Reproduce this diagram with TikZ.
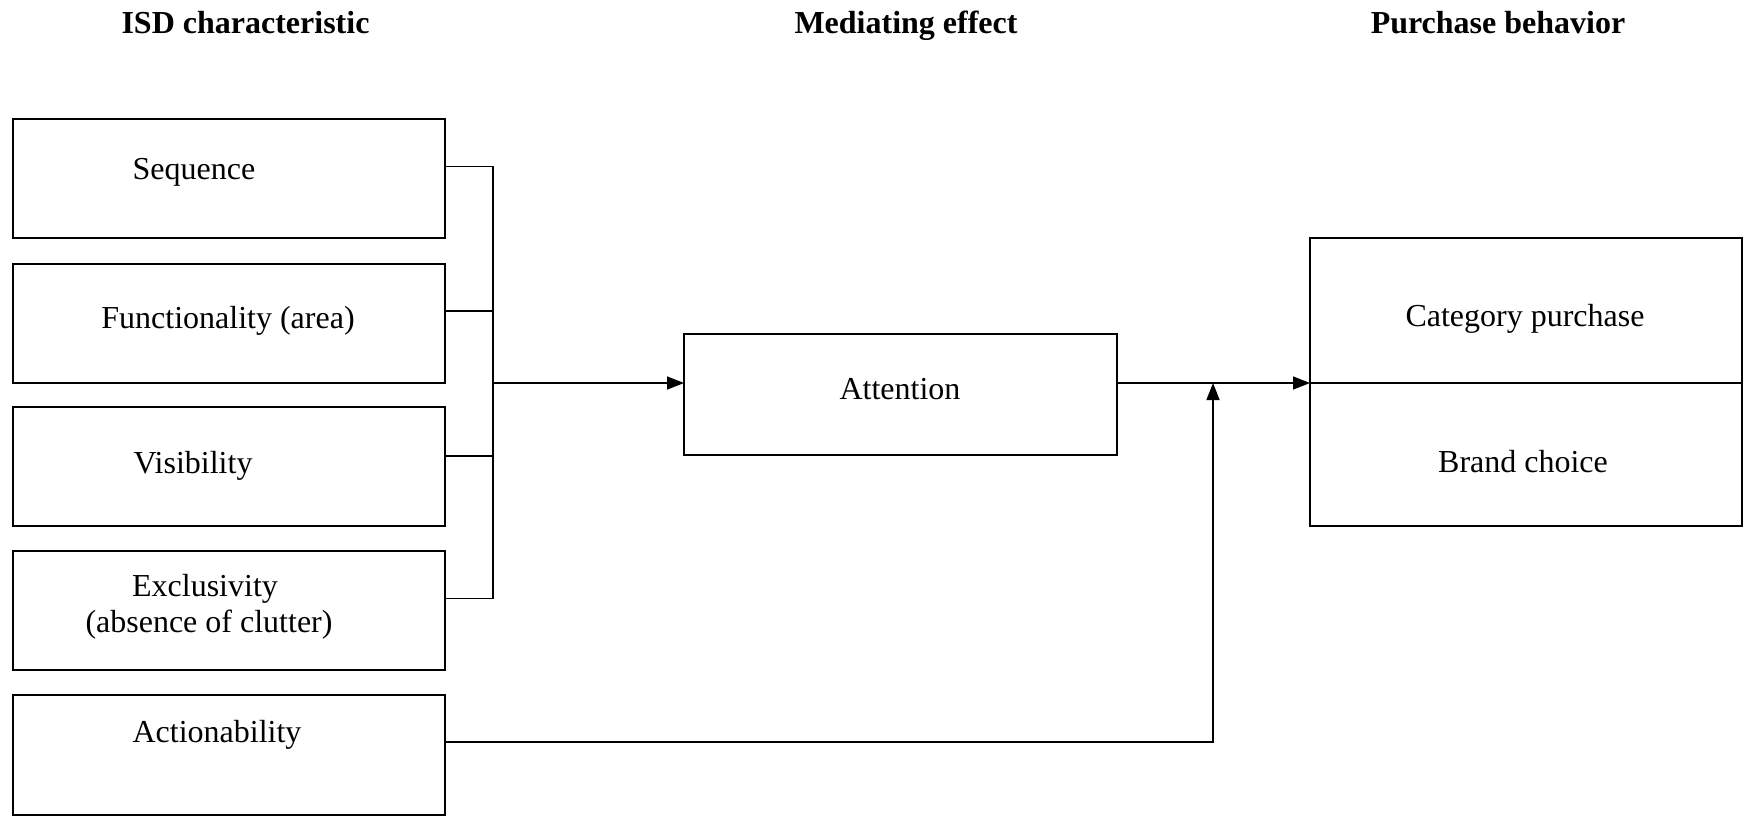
\documentclass[tikz,border=0pt]{standalone}
\usepackage{fontspec}
\setmainfont{Liberation Serif}
\usetikzlibrary{arrows.meta,calc}
\begin{document}
\begin{tikzpicture}[x=1pt,y=-1pt,
  box/.style={draw=black,line width=1.5pt,inner sep=0pt,outer sep=0pt,minimum width=432pt,anchor=north west},
  txt/.style={inner sep=0pt,anchor=base,font=\fontsize{32}{38}\selectfont},
  head/.style={txt,font=\fontsize{32}{38}\selectfont\bfseries},
  conn/.style={line width=1.5pt},
  arr/.style={conn,-{Triangle[length=17pt,width=13pt]}}]
\useasboundingbox (0,0) rectangle (1745,816);
% headers
\node[head] (h1) at (245.5,34) {ISD characteristic};
\node[head] (h2) at (906,34) {Mediating effect};
\node[head] (h3) at (1498,34) {Purchase behavior};
% left boxes
\node[box,minimum height=119pt] (seq) at (13,119) {};
\node[box,minimum height=119pt] (fun) at (13,264) {};
\node[box,minimum height=119pt] (vis) at (13,407) {};
\node[box,minimum height=119pt] (exc) at (13,551) {};
\node[box,minimum height=120pt] (act) at (13,695) {};
\node[txt] (tseq) at (194,179) {Sequence};
\node[txt] (tfun) at (228,328) {Functionality (area)};
\node[txt] (tvis) at (193,473) {Visibility};
\node[txt] (texc1) at (205,596) {Exclusivity};
\node[txt] (texc2) at (209,632) {(absence of clutter)};
\node[txt] (tact) at (217,742) {Actionability};
% attention
\node[box,minimum width=433pt,minimum height=121pt] (att) at (684,334) {};
\node[txt] (tatt) at (900,399) {Attention};
% right boxes
\node[box,minimum height=145pt] (cat) at (1310,238) {};
\node[box,minimum height=143pt] (brd) at (1310,383) {};
\node[txt] (tcat) at (1525,326) {Category purchase};
\node[txt] (tbrd) at (1523,472) {Brand choice};
% connection points
\coordinate (p1) at ($(seq.north east)!0.4!(seq.south east)$);
\coordinate (p2) at ($(fun.north east)!0.395!(fun.south east)$);
\coordinate (p3) at ($(vis.north east)!0.41!(vis.south east)$);
\coordinate (p4) at ($(exc.north east)!0.4!(exc.south east)$);
\coordinate (p5) at ($(act.north east)!0.39!(act.south east)$);
\coordinate (bt) at (493,0);
\coordinate (bm) at (493,383);
\coordinate (jn) at (1213,383);
\draw[conn] (p1) -| (p4 -| bt) -- (p4);
\draw[conn] (p2) -- (p2 -| bt);
\draw[conn] (p3) -- (p3 -| bt);
\draw[arr] (bm) -- (att.west |- bm);
\draw[arr] (att.east |- bm) -- (cat.south west);
\draw[arr] (p5) -| (jn);
\end{tikzpicture}
\end{document}
